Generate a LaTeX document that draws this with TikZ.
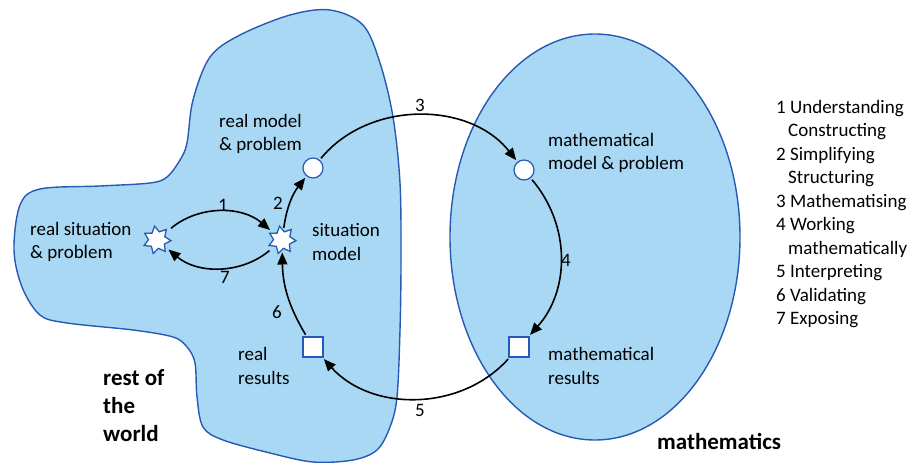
\documentclass[tikz,border=0pt]{standalone}
\usepackage{fontspec}
\setmainfont{Carlito}
\usetikzlibrary{shapes.geometric,arrows.meta}
\definecolor{seafill}{RGB}{168,216,244}
\definecolor{sealine}{RGB}{40,90,180}
\begin{document}
\begin{tikzpicture}[x=1pt,y=1pt,
		region/.style={draw=sealine,fill=seafill,line width=1.4pt},
		spark/.style={star,star points=7,star point ratio=1.65,minimum size=28pt,inner sep=0pt,draw=sealine,fill=white,line width=1.3pt,rotate=10},
		dot/.style={circle,minimum size=20pt,inner sep=0pt,draw=sealine,fill=white,line width=1.2pt},
		box/.style={rectangle,minimum size=20pt,inner sep=0pt,draw=sealine,fill=white,line width=1.2pt},
		arr/.style={-{Triangle[length=12pt,width=10pt]},line width=1.6pt,shorten >=2pt,shorten <=2pt},
		lbl/.style={align=left,anchor=west,inner sep=0pt,font=\fontsize{19}{23.5}\selectfont},
		big/.style={align=left,anchor=west,inner sep=0pt,font=\fontsize{23}{28}\selectfont\bfseries},
		num/.style={inner sep=0pt,font=\fontsize{19}{23.5}\selectfont}]
	\useasboundingbox (0,0) rectangle (913,463);
	% the two regions
	\draw[region] plot[smooth cycle,tension=0.55] coordinates {(330,453) (363,438) (380,400) (393,346) (400,280) (401,203) (400,133) (397,66) (390,36) (377,13) (353,3) (313,1) (270,10) (223,23) (203,36) (197,66) (195,100) (187,116) (173,126) (133,133) (67,140) (40,148) (22,176) (14,213) (20,258) (40,274) (100,277) (150,280) (167,286) (180,303) (187,320) (193,363) (210,406) (240,428) (290,448)};
	\draw[region] (595,226) ellipse [x radius=145,y radius=203];
	% stations
	\node[spark] (realsit) at (157,223) {};
	\node[spark] (sitmod) at (282,223) {};
	\node[dot] (realmod) at (313,295) {};
	\node[dot] (mathmod) at (524,293) {};
	\node[box] (mathres) at (519,116) {};
	\node[box] (realres) at (313,116) {};
	% cycle
	\draw[arr,shorten <=6pt,shorten >=4pt] (realsit) to[bend left=40] (sitmod);
	\draw[arr,shorten <=6pt,shorten >=4pt] (sitmod) to[bend left=40] (realsit);
	\draw[arr] (sitmod) to[bend left=15] (realmod);
	\draw[arr] (realmod) to[bend left=51] (mathmod);
	\draw[arr] (mathmod) to[bend left=41] (mathres);
	\draw[arr] (mathres) to[bend left=48] (realres);
	\draw[arr] (realres) to[bend left=15] (sitmod);
	\node[num] (n1) at (223,258) {1};
	\node[num] (n2) at (278,260) {2};
	\node[num] (n3) at (420,358) {3};
	\node[num] (n4) at (566,203) {4};
	\node[num] (n5) at (420,53) {5};
	\node[num] (n6) at (277,151) {6};
	\node[num] (n7) at (225,186) {7};
	% labels
	\node[lbl] (tsit) at (30,221) {real situation\\\& problem};
	\node[lbl] (tsitmod) at (312,221) {situation\\model};
	\node[lbl] (trealmod) at (219,329) {real model\\\& problem};
	\node[lbl] (trealres) at (238,97) {real\\results};
	\node[lbl] (tmathmod) at (548,310) {mathematical\\model \& problem};
	\node[lbl] (tmathres) at (548,97) {mathematical\\results};
	\node[big] (world) at (103,57) {rest of\\the\\world};
	\node[big] (maths) at (657,22) {mathematics};
	\node[lbl,anchor=north west] (legend) at (776,363) {1 Understanding\\\hspace*{12pt}Constructing\\2 Simplifying\\\hspace*{12pt}Structuring\\3 Mathematising\\4 Working\\\hspace*{12pt}mathematically\\5 Interpreting\\6 Validating\\7 Exposing};
\end{tikzpicture}
\end{document}
